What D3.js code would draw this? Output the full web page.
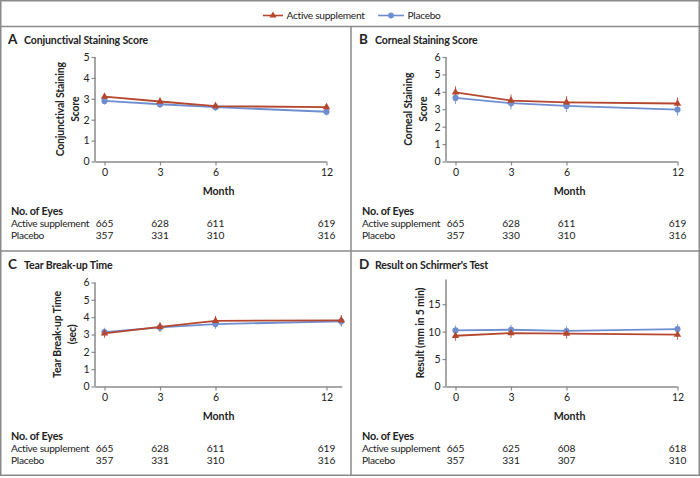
<!DOCTYPE html>
<html><head><meta charset="utf-8">
<script src="https://cdn.jsdelivr.net/npm/d3@7"></script>
<style>
html,body{margin:0;padding:0;background:#fff;}
text{font-family:Lato,"Liberation Sans",sans-serif;fill:#222;}
</style></head>
<body><svg id="chart" width="700" height="478"></svg>
<script>
// ---- data ----
const months = [0, 3, 6, 12];
const monthsC = [0, 3, 6, 12.8]; // panel C plots its 12-month points slightly to the right
const seriesNames = ["Active supplement", "Placebo"];

const conjActive = [3.1, 2.87, 2.65, 2.6];
const conjPlacebo = [2.9, 2.74, 2.6, 2.38];
const conjErr = [0.18, 0.18, 0.18, 0.18];

const cornActive = [3.97, 3.5, 3.4, 3.33];
const cornPlacebo = [3.65, 3.35, 3.19, 2.98];
const cornErr = [0.35, 0.35, 0.35, 0.35];

const tearActive = [3.06, 3.44, 3.79, 3.82];
const tearPlacebo = [3.14, 3.41, 3.6, 3.76];
const tearErr = [0.25, 0.27, 0.28, 0.3];

const schActive = [9.25, 9.72, 9.62, 9.44];
const schPlacebo = [10.22, 10.34, 10.12, 10.47];
const schErr = [0.9, 0.9, 0.9, 0.9];

const eyesA = {active: [665, 628, 611, 619], placebo: [357, 331, 310, 316]};
const eyesB = {active: [665, 628, 611, 619], placebo: [357, 330, 310, 316]};
const eyesC = {active: [665, 628, 611, 619], placebo: [357, 331, 310, 316]};
const eyesD = {active: [665, 625, 608, 618], placebo: [357, 331, 307, 310]};

const ticksA = [0, 1, 2, 3, 4, 5];
const ticksB = [0, 1, 2, 3, 4, 5, 6];
const ticksC = [0, 1, 2, 3, 4, 5, 6];
const ticksD = [0, 5, 10, 15];
const monthTicks = [0, 3, 6, 12];

// ---- styles ----
const RED = "#b5472e", BLUE = "#6e8ed0", FRAME = "#8a8a8a";

const svg = d3.select("#chart");

// frame
svg.append("rect").attr("x", 0.75).attr("y", 0.75).attr("width", 698.5).attr("height", 474.5)
  .attr("fill", "none").attr("stroke", FRAME).attr("stroke-width", 1.5);
svg.append("line").attr("x1", 0).attr("x2", 700).attr("y1", 26.5).attr("y2", 26.5).attr("stroke", FRAME).attr("stroke-width", 1.5);
svg.append("line").attr("x1", 0).attr("x2", 700).attr("y1", 251).attr("y2", 251).attr("stroke", FRAME).attr("stroke-width", 1.5);
svg.append("line").attr("x1", 351).attr("x2", 351).attr("y1", 26.5).attr("y2", 475).attr("stroke", FRAME).attr("stroke-width", 1.5);

// legend
const lg = svg.append("g");
function legendItem(x, len, color, name, shape) {
  lg.append("line").attr("x1", x).attr("x2", x + len).attr("y1", 15.5).attr("y2", 15.5).attr("stroke", color).attr("stroke-width", 1.6);
  lg.append("path").attr("d", d3.symbol().type(shape).size(shape === d3.symbolCircle ? 26 : 22)())
    .attr("transform", `translate(${x + len / 2},15.5)`).attr("fill", color);
  lg.append("text").attr("x", x + len + 3.5).attr("y", 19.2).attr("font-size", 10.2)
    .attr("letter-spacing", -0.3).attr("fill", "#333").text(name);
}
legendItem(263, 20, RED, seriesNames[0], d3.symbolTriangle);
legendItem(378, 26, BLUE, seriesNames[1], d3.symbolCircle);

function panel(opt) {
  const g = svg.append("g").attr("transform", `translate(${opt.ox},${opt.oy})`);
  const x = d3.scaleLinear().domain([0, 12]).range([104.5, 326.5]);
  const y = d3.scaleLinear().domain(opt.ydom).range([135.5, opt.ytop]);
  const axisX = 95.5;

  // title
  g.append("text").attr("x", 8).attr("y", 18).attr("font-size", 13.5).attr("font-weight", 700).text(opt.letter);
  g.append("text").attr("x", 24).attr("y", 18).attr("font-size", 10.6).attr("letter-spacing", -0.15)
    .attr("font-weight", 700).text(opt.title);

  // y axis
  const ya = d3.axisLeft(y).tickValues(opt.yticks).tickSize(4).tickPadding(2).tickFormat(d3.format("d"));
  const yg = g.append("g").attr("transform", `translate(${axisX},0)`).call(ya);
  yg.select(".domain").attr("d", `M-0.5,${y.range()[1]}V${y(0)}`);
  // x axis
  const xa = d3.axisBottom(x).tickValues(monthTicks).tickSize(4).tickPadding(3).tickFormat(d3.format("d"));
  const xg = g.append("g").attr("transform", `translate(0,${y(0)})`).call(xa);
  xg.select(".domain").attr("d", `M${axisX},0.5H${x(opt.xend)}`);
  [yg, xg].forEach(a => {
    a.selectAll(".domain").attr("stroke", FRAME).attr("stroke-width", 1.5).attr("fill", "none");
    a.selectAll(".tick line").attr("stroke", FRAME).attr("stroke-width", 1.2);
    a.selectAll(".tick text").attr("font-size", 10.5).attr("fill", "#333").attr("font-family", "Lato, sans-serif");
  });

  // y title
  const yt = g.append("text").attr("transform", `translate(${opt.ytx},${(y.range()[0] + y.range()[1]) / 2}) rotate(-90)`)
    .attr("text-anchor", "middle").attr("font-size", 10.4).attr("letter-spacing", -0.15).attr("font-weight", 700);
  opt.ytitle.forEach((t, i) => yt.append("tspan").attr("x", 0).attr("dy", i === 0 ? 0 : 15).text(t));

  // Month label
  g.append("text").attr("x", (x(0) + x(12)) / 2 + 3).attr("y", 168.5).attr("text-anchor", "middle")
    .attr("font-size", 10.6).attr("font-weight", 700).text("Month");

  // series
  const mx = opt.mx;
  const line = d3.line().x((d, i) => x(mx[i])).y(d => y(d));
  [[opt.placebo, BLUE], [opt.active, RED]].forEach(([vals, col]) => {
    g.append("g").selectAll("line").data(vals).join("line")
      .attr("x1", (d, i) => x(mx[i])).attr("x2", (d, i) => x(mx[i]))
      .attr("y1", (d, i) => y(d - opt.err[i])).attr("y2", (d, i) => y(d + opt.err[i]))
      .attr("stroke", col).attr("stroke-width", 1.1).attr("opacity", 0.8);
  });
  [[opt.placebo, BLUE, d3.symbolCircle, 30], [opt.active, RED, d3.symbolTriangle, 24]].forEach(([vals, col, sym, sz]) => {
    g.append("path").datum(vals).attr("d", line).attr("fill", "none").attr("stroke", col).attr("stroke-width", 1.8);
    g.append("g").selectAll("path").data(vals).join("path")
      .attr("d", d3.symbol().type(sym).size(sz)())
      .attr("transform", (d, i) => `translate(${x(mx[i])},${y(d)})`).attr("fill", col);
  });

  // table
  g.append("text").attr("x", 11).attr("y", 189).attr("font-size", 10.8).attr("letter-spacing", -0.2)
    .attr("font-weight", 700).text("No. of Eyes");
  g.append("text").attr("x", 11).attr("y", 201).attr("font-size", 10.2).attr("letter-spacing", -0.3).attr("fill", "#333").text(seriesNames[0]);
  g.append("text").attr("x", 11).attr("y", 212.5).attr("font-size", 10.2).attr("letter-spacing", -0.3).attr("fill", "#333").text(seriesNames[1]);
  [["active", 201], ["placebo", 212.5]].forEach(([k, yy]) => {
    g.append("g").selectAll("text").data(opt.eyes[k]).join("text")
      .attr("x", (d, i) => x(months[i])).attr("y", yy).attr("text-anchor", "middle")
      .attr("font-size", 10.2).attr("fill", "#333").text(d => d);
  });
}

panel({ox: 0, oy: 26, letter: "A", title: "Conjunctival Staining Score", ydom: [0, 5], ytop: 31, yticks: ticksA,
  ytitle: ["Conjunctival Staining", "Score"], ytx: 64, mx: months, xend: 12,
  active: conjActive, placebo: conjPlacebo, err: conjErr, eyes: eyesA});
panel({ox: 351, oy: 26, letter: "B", title: "Corneal Staining Score", ydom: [0, 6], ytop: 31, yticks: ticksB,
  ytitle: ["Corneal Staining", "Score"], ytx: 61, mx: months, xend: 12,
  active: cornActive, placebo: cornPlacebo, err: cornErr, eyes: eyesB});
panel({ox: 0, oy: 251, letter: "C", title: "Tear Break-up Time", ydom: [0, 6], ytop: 31.5, yticks: ticksC,
  ytitle: ["Tear Break-up Time", "(sec)"], ytx: 61, mx: monthsC, xend: 12.85,
  active: tearActive, placebo: tearPlacebo, err: tearErr, eyes: eyesC});
panel({ox: 351, oy: 251, letter: "D", title: "Result on Schirmer's Test", ydom: [0, 19.5], ytop: 28.5, yticks: ticksD,
  ytitle: ["Result (mm in 5 min)"], ytx: 73, mx: months, xend: 12,
  active: schActive, placebo: schPlacebo, err: schErr, eyes: eyesD});
</script></body></html>
